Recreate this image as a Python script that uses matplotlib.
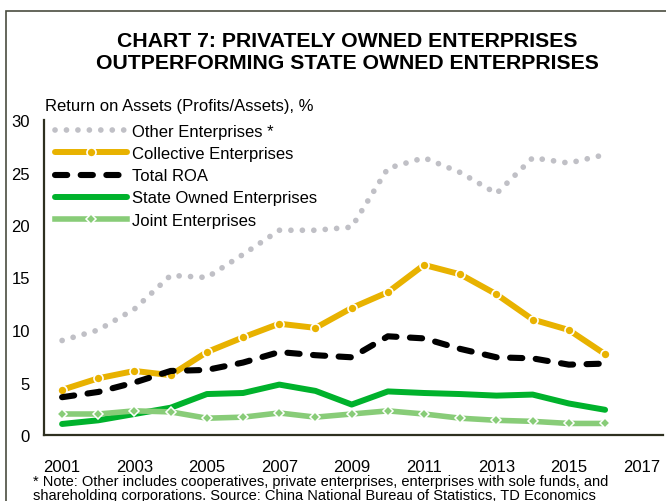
import matplotlib
matplotlib.use("Agg")
import matplotlib.pyplot as plt
from matplotlib.patches import Rectangle

plt.rcParams["font.family"] = ["Liberation Sans", "DejaVu Sans"]

years = list(range(2001, 2017))
other = [9.0, 10.0, 12.0, 15.2, 15.0, 17.2, 19.5, 19.5, 19.8, 25.4, 26.4, 25.0, 23.0, 26.4, 25.9, 26.7]
collective = [4.3, 5.4, 6.1, 5.7, 7.9, 9.3, 10.6, 10.2, 12.1, 13.6, 16.2, 15.3, 13.4, 11.0, 10.0, 7.7]
total_roa = [3.6, 4.1, 5.0, 6.1, 6.2, 6.9, 7.9, 7.6, 7.4, 9.4, 9.2, 8.2, 7.4, 7.3, 6.7, 6.8]
state_owned = [1.05, 1.4, 2.0, 2.6, 3.9, 4.0, 4.8, 4.2, 2.9, 4.15, 4.0, 3.9, 3.75, 3.85, 3.0, 2.4]
joint = [2.0, 2.0, 2.3, 2.2, 1.6, 1.7, 2.1, 1.7, 2.0, 2.3, 2.0, 1.6, 1.4, 1.3, 1.1, 1.1]

x_ticks = [2001, 2003, 2005, 2007, 2009, 2011, 2013, 2015, 2017]
y_ticks = [0, 5, 10, 15, 20, 25, 30]

GOLD = "#E8B200"
GREEN = "#00B22C"
LIGHT_GREEN = "#88CC78"
GREY = "#C0C0C6"
SPINE = "#2E3020"

fig = plt.figure(figsize=(6.66, 5.02), dpi=100)

# outer frame
fig.patches.append(Rectangle((6 / 666, -0.05), 1.2, 1 - 12 / 502 + 0.05,
                             transform=fig.transFigure, fill=False,
                             edgecolor="#4A4D40", linewidth=1.2))

ax = fig.add_axes([44 / 666, 66 / 502, 619 / 666, 315 / 502])

ax.plot(years, other, color=GREY, linewidth=4.1, linestyle=(0, (0.01, 2.0)),
        dash_capstyle="round", label="Other Enterprises *")
ax.plot(years, collective, color=GOLD, linewidth=4.3, marker="o", markersize=6.5,
        markerfacecolor=GOLD, markeredgecolor="white", markeredgewidth=1.2,
        solid_capstyle="round", label="Collective Enterprises")
ax.plot(years, total_roa, color="black", linewidth=4.4, linestyle=(0, (2.0, 2.2)),
        dash_capstyle="round", label="Total ROA")
ax.plot(years, state_owned, color=GREEN, linewidth=4.3, solid_capstyle="round",
        label="State Owned Enterprises")
ax.plot(years, joint, color=LIGHT_GREEN, linewidth=4.0, marker="D", markersize=5,
        markerfacecolor=LIGHT_GREEN, markeredgecolor="white", markeredgewidth=1.1,
        label="Joint Enterprises")

ax.set_xlim(2000.5, 2017.6)
ax.set_ylim(0, 30)
ax.set_xticks(x_ticks)
ax.set_yticks(y_ticks)
ax.tick_params(axis="both", length=0, labelsize=12, colors="black")
ax.tick_params(axis="x", pad=17)
ax.tick_params(axis="y", pad=10)
for side in ("top", "right"):
    ax.spines[side].set_visible(False)
for side in ("left", "bottom"):
    ax.spines[side].set_color(SPINE)
    ax.spines[side].set_linewidth(1.6)

leg = ax.legend(loc="upper left", bbox_to_anchor=(55 / 666, 1 - 125 / 502),
                bbox_transform=fig.transFigure, frameon=False, fontsize=12,
                handlelength=4.3, handletextpad=0.3, labelspacing=0.43,
                numpoints=1, borderpad=0, borderaxespad=0)

fig.text(45 / 666, 1 - 107 / 502, "Return on Assets (Profits/Assets), %",
         fontsize=12, ha="left", va="center")

fig.text(0.5218, 1 - 52.5 / 502,
         "CHART 7: PRIVATELY OWNED ENTERPRISES\nOUTPERFORMING STATE OWNED ENTERPRISES",
         fontsize=15.3, fontweight="bold", ha="center", va="center", linespacing=1.25)

fig.text(33 / 666, 1 - 489 / 502,
         "* Note: Other includes cooperatives, private enterprises, enterprises with sole funds, and\n"
         "shareholding corporations. Source: China National Bureau of Statistics, TD Economics",
         fontsize=10.5, ha="left", va="center", linespacing=1.08)

fig.savefig("out.png", dpi=100)
